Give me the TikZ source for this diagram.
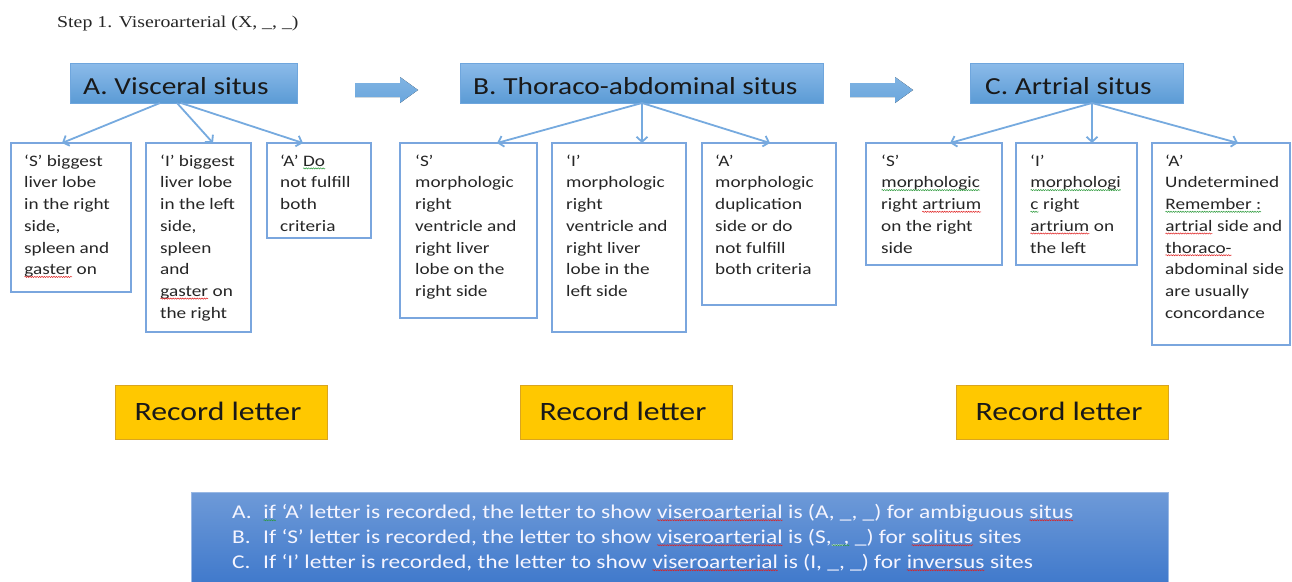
\documentclass[tikz,border=0pt]{standalone}
\usepackage{fontspec}
\usetikzlibrary{arrows.meta,decorations.pathmorphing,calc}
\newfontfamily\cb[FakeStretch=1.2]{Carlito}
\newfontfamily\tm[FakeStretch=1.2]{Liberation Serif}
\definecolor{hdtop}{HTML}{8CBBE9}
\definecolor{hdbot}{HTML}{5B9BD5}
\definecolor{hdline}{HTML}{6FA6DD}
\definecolor{boxline}{HTML}{7AA6DE}
\definecolor{connc}{HTML}{76AADF}
\definecolor{gold}{HTML}{FFC800}
\definecolor{goldline}{HTML}{D9A520}
\definecolor{bbtop}{HTML}{6E9AD8}
\definecolor{bbbot}{HTML}{3E78CB}
\definecolor{arrowc}{HTML}{6AA6DD}
\definecolor{wred}{HTML}{E02020}
\definecolor{wgreen}{HTML}{2A9A3A}
\newcommand\wv[2]{\tikz[baseline=(w.base)]{\node[inner sep=0pt,outer sep=0pt,draw=none,fill=none,shape=rectangle,anchor=base](w){#2};\draw[#1,line width=0.5pt,decorate,decoration={snake,amplitude=0.6pt,segment length=2.4pt}]([yshift=-2.2pt]w.base west)--([yshift=-2.2pt]w.base east);}}
\newcommand\rw[1]{\wv{wred}{#1}}
\newcommand\gw[1]{\wv{wgreen}{#1}}
\tikzset{
  hdbox/.style={draw=hdline, line width=0.8pt, top color=hdtop, bottom color=hdbot, minimum height=40pt, inner sep=0pt, outer sep=0pt, anchor=north west},
  hdtext/.style={font=\cb\fontsize{24.5}{28}\selectfont, text=black!90, inner sep=0pt, anchor=base west},
  cbox/.style={draw=boxline, line width=1.6pt, inner sep=0pt, outer sep=0pt, anchor=north west, fill=white},
  ctext/.style={font=\cb\fontsize{16}{21.7}\selectfont, text=black!85, align=left, inner sep=0pt, anchor=north west},
  conn/.style={draw=connc, line width=1.8pt, -{Straight Barb[length=5pt,width=11pt]}},
  recbox/.style={draw=goldline, line width=0.8pt, fill=gold, minimum width=212pt, minimum height=54pt, inner sep=0pt, outer sep=0pt, anchor=north west},
  rectext/.style={font=\cb\fontsize{26.5}{30}\selectfont, text=black!90, inner sep=0pt, anchor=base},
  blockarrow/.style={top color=arrowc!85!white, bottom color=arrowc, draw=none},
  bbox/.style={draw=bbtop!70!white, line width=0.8pt, top color=bbtop, bottom color=bbbot, inner sep=0pt, outer sep=0pt, anchor=north west},
  btext/.style={font=\cb\fontsize{19.5}{25}\selectfont, text=white!96!blue, inner sep=0pt, anchor=base west},
}
\begin{document}
\begin{tikzpicture}[x=1pt,y=-1pt]
\useasboundingbox (0,0) rectangle (1292,581);
\fill[white] (0,0) rectangle (1292,581);

\node[font=\tm\fontsize{16.5}{20}\selectfont, text=black!85, anchor=base west, inner sep=0pt] (title) at (57,27) {Step 1. Viseroarterial (X, \_, \_)};

% headers
\node[hdbox, minimum width=227pt] (hA) at (70,63) {};
\node[hdtext] (tA) at (83,94) {A. Visceral situs};
\node[hdbox, minimum width=363pt] (hB) at (460,63) {};
\node[hdtext] (tB) at (473,94) {B. Thoraco-abdominal situs};
\node[hdbox, minimum width=213pt] (hC) at (970,63) {};
\node[hdtext] (tC) at (985,94) {C. Artrial situs};

% block arrows
\fill[blockarrow] (355,83) -- (400,83) -- (400,77) -- (418,90) -- (400,103) -- (400,97) -- (355,97) -- cycle;
\fill[blockarrow] (850,83) -- (895,83) -- (895,77) -- (913,90) -- (895,103) -- (895,97) -- (850,97) -- cycle;

% child boxes
\node[cbox, minimum width=120pt, minimum height=149pt] (aS) at (11,143) {};
\node[cbox, minimum width=105pt, minimum height=189pt] (aI) at (146,143) {};
\node[cbox, minimum width=104pt, minimum height=95pt] (aA) at (267,143) {};
\node[cbox, minimum width=137pt, minimum height=175pt] (bS) at (400,143) {};
\node[cbox, minimum width=134pt, minimum height=189pt] (bI) at (552,143) {};
\node[cbox, minimum width=134pt, minimum height=162pt] (bA) at (702,143) {};
\node[cbox, minimum width=136pt, minimum height=122pt] (cS) at (866,143) {};
\node[cbox, minimum width=121pt, minimum height=122pt] (cI) at (1016,143) {};
\node[cbox, minimum width=138pt, minimum height=202pt] (cA) at (1152,143) {};

% child texts
\node[ctext] (aSt) at ($(aS.north west)+(13,9)$) {\rule{0pt}{14pt}‘S’ biggest\\liver lobe\\in the right\\side,\\spleen and\\\rw{gaster} on};
\node[ctext] (aIt) at ($(aI.north west)+(14,9)$) {\rule{0pt}{14pt}‘I’ biggest\\liver lobe\\in the left\\side,\\spleen\\and\\\rw{gaster} on\\the right};
\node[ctext] (aAt) at ($(aA.north west)+(13,9)$) {\rule{0pt}{14pt}‘A’ \gw{Do}\\not fulfill\\both\\criteria};
\node[ctext] (bSt) at ($(bS.north west)+(15,9)$) {\rule{0pt}{14pt}‘S’\\morphologic\\right\\ventricle and\\right liver\\lobe on the\\right side};
\node[ctext] (bIt) at ($(bI.north west)+(14,9)$) {\rule{0pt}{14pt}‘I’\\morphologic\\right\\ventricle and\\right liver\\lobe in the\\left side};
\node[ctext] (bAt) at ($(bA.north west)+(13,9)$) {\rule{0pt}{14pt}‘A’\\morphologic\\duplication\\side or do\\not fulfill\\both criteria};
\node[ctext] (cSt) at ($(cS.north west)+(15,9)$) {\rule{0pt}{14pt}‘S’\\\gw{morphologic}\\right \rw{artrium}\\on the right\\side};
\node[ctext] (cIt) at ($(cI.north west)+(14,9)$) {\rule{0pt}{14pt}‘I’\\\gw{morphologi}\\\gw{c} right\\\rw{artrium} on\\the left};
\node[ctext] (cAt) at ($(cA.north west)+(13,9)$) {\rule{0pt}{14pt}‘A’\\Undetermined\\\gw{Remember :}\\\rw{artrial} side and\\\rw{thoraco-}\\abdominal side\\are usually\\concordance};

% connectors
\coordinate (oA1) at (160,103);
\coordinate (oA2) at (177,103);
\coordinate (oA3) at (181,103);
\coordinate (oB) at (642,103);
\coordinate (oC) at (1092,103);
\draw[conn] (oA1) -- ($(aS.north west)+(51,0)$);
\draw[conn] (oA2) -- ($(aI.north west)+(67,0)$);
\draw[conn] (oA3) -- ($(aA.north west)+(36,0)$);
\draw[conn] (oB) -- ($(bS.north west)+(97,0)$);
\draw[conn] (oB) -- ($(bI.north west)+(90,0)$);
\draw[conn] (oB) -- ($(bA.north west)+(68,0)$);
\draw[conn] (oC) -- ($(cS.north west)+(84,0)$);
\draw[conn] (oC) -- ($(cI.north west)+(76,0)$);
\draw[conn] (oC) -- ($(cA.north west)+(86,0)$);

% record letter boxes
\node[recbox] (r1) at (115,385) {};
\node[rectext] (r1t) at ($(r1.center)+(-3,8)$) {Record letter};
\node[recbox] (r2) at (520,385) {};
\node[rectext] (r2t) at ($(r2.center)+(-3,8)$) {Record letter};
\node[recbox] (r3) at (956,385) {};
\node[rectext] (r3t) at ($(r3.center)+(-3,8)$) {Record letter};

% bottom box
\node[bbox, minimum width=977pt, minimum height=95pt] (bb) at (191,492) {};
\node[btext] (b1) at (232,518) {\makebox[31pt][l]{A.}\gw{if} ‘A’ letter is recorded, the letter to show \rw{viseroarterial} is (A, \_, \_) for ambiguous \rw{situs}};
\node[btext] (b2) at (232,543) {\makebox[31pt][l]{B.}If ‘S’ letter is recorded, the letter to show \rw{viseroarterial} is (S,\gw{\_,} \_) for \rw{solitus} sites};
\node[btext] (b3) at (232,568) {\makebox[31pt][l]{C.}If ‘I’ letter is recorded, the letter to show \rw{viseroarterial} is (I, \_, \_) for \rw{inversus} sites};
\end{tikzpicture}
\end{document}
